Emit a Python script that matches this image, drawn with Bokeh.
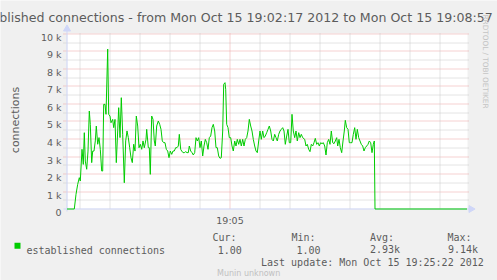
import math
from bokeh.plotting import figure
from bokeh.models import Range1d, Label
from bokeh.embed import file_html
from bokeh.resources import INLINE

# ---------------- data ----------------
title_text = "established connections - from Mon Oct 15 19:02:17 2012 to Mon Oct 15 19:08:57 2012"
y_label = "connections"
series_name = "established connections"
x_tick_pos = [163]                 # seconds after 19:02:17 -> 19:05:00
x_tick_labels = ["19:05"]
x_minor_pos = [13, 43, 73, 103, 133, 193, 223, 253, 283, 313, 343, 373]
y_ticks = [0, 1000, 2000, 3000, 4000, 5000, 6000, 7000, 8000, 9000, 10000]
y_tick_labels = ["0", "1 k", "2 k", "3 k", "4 k", "5 k", "6 k", "7 k", "8 k", "9 k", "10 k"]
y_minor = [500, 1500, 2500, 3500, 4500, 5500, 6500, 7500, 8500, 9500]
stat_names = ["Cur:", "Min:", "Avg:", "Max:"]
stat_values = ["1.00", "1.00", "2.93k", "9.14k"]
last_update = "Last update: Mon Oct 15 19:25:22 2012"
watermark = "Munin unknown"
side_text = "RRDTOOL / TOBI OETIKER"

# seconds after 19:02:17
times_s = [0, 7.3, 9.0, 10.7, 12.3, 13.3, 15.0, 16.3, 17.3, 18.3, 19.7, 21.0, 22.3, 23.3, 24.7,
           25.7, 27.0, 28.3, 29.3, 30.7, 32.0, 33.3, 34.7, 35.7, 36.7, 38.0, 39.0, 40.7, 41.7,
           43.0, 44.0, 45.7, 46.7, 48.0, 49.3, 50.7, 51.7, 53.0, 54.3, 55.7, 57.3, 58.7, 60.0,
           61.3, 62.7, 64.0, 65.3, 66.7, 68.0, 69.3, 70.7, 72.0, 73.3, 74.7, 76.0, 77.3, 79.0,
           79.7, 81.3, 82.3, 83.3, 84.7, 86.0, 87.3, 88.3, 89.7, 91.3, 92.7, 94.0, 95.3, 96.7,
           98.0, 99.3, 100.7, 102.0, 103.3, 104.7, 106.0, 107.3, 108.7, 110.0, 111.3, 112.3,
           113.7, 114.7, 116.0, 117.3, 118.7, 120.0, 121.3, 122.3, 123.7, 125.0, 126.3, 127.7,
           129.0, 130.3, 131.7, 133.0, 134.3, 135.7, 137.0, 138.3, 139.7, 141.0, 142.3, 143.7,
           145.0, 146.3, 147.7, 149.0, 150.3, 151.7, 153.0, 154.3, 155.7, 156.7, 158.0,
           158.7, 159.7, 161.0, 162.3, 163.7, 165.0, 166.3, 167.7, 169.0, 170.3, 171.7, 173.0,
           174.3, 175.7, 177.0, 178.3, 179.7, 181.0, 182.3, 183.7, 185.0, 186.3, 187.7, 189.0,
           190.3, 191.7, 193.0, 194.3, 195.7, 197.0, 198.3, 199.7, 201.0, 202.3, 203.7, 205.0,
           206.3, 207.7, 209.0, 210.3, 211.7, 213.0, 214.3, 215.7, 217.0, 218.3, 219.7, 221.0,
           222.3, 223.7, 225.0, 226.3, 227.7, 229.0, 230.3, 231.7, 233.0, 234.3, 235.7,
           237.7, 239.0, 240.3, 241.7, 243.0, 244.3, 245.7, 247.0, 248.3, 249.7, 251.0, 252.3,
           253.7, 255.0, 256.3, 257.7, 259.0, 260.3, 261.7, 263.0, 264.3, 265.7, 267.0, 268.3,
           269.7, 270.7, 272.0, 273.3, 274.7, 276.0, 277.3, 278.3, 279.7, 281.0, 282.3, 283.7,
           285.0, 286.3, 287.7, 289.0, 290.3, 291.7, 293.0, 294.3, 295.7, 297.0, 298.3, 299.7,
           301.0, 302.3, 303.7, 305.0, 306.3, 307.3, 308.0, 400.0]
conns = [0, 0, 840, 1410, 1790, 1600, 3410, 2550, 4360, 2740, 2270, 3310, 5600, 4840, 2650,
         3310, 3310, 3890, 4740, 3700, 4080, 3410, 2170, 2170, 5980, 5980, 5410, 9140, 5410,
         5310, 4930, 5120, 4650, 5120, 2650, 4460, 5790, 4080, 6360, 4270, 1500, 3890, 4460,
         4080, 3500, 2930, 2650, 3700, 3310, 5310, 4740, 3500, 3700, 3410, 3890, 3500, 3980,
         4552, 3505, 3505, 1981, 5314, 5124, 3886, 3600, 4743, 5029, 4838, 4552, 3886, 3790,
         3790, 3410, 3314, 2933, 3314, 3124, 3314, 3314, 3505, 3505, 3600, 4267,
         3410, 3314, 3219, 3219, 3276, 3219, 3219, 3600, 3314, 3219, 3086, 3219,
         4076, 3886, 4076, 3505, 3886, 3029, 3600, 3981, 3790, 3410, 4076, 4171,
         4648, 4838, 4457, 3505, 3505, 3029, 2895, 2933, 4457, 7124, 7219,
         6838, 4838, 4648, 4076, 4076, 3600, 3314, 3886, 3600, 3981, 3695, 3981,
         3600, 3981, 3600, 3981, 4076, 4457, 5124, 4743, 4457, 3981, 3600, 3314,
         3219, 3886, 4457, 3981, 4457, 4076, 4171, 4362, 4552, 4743, 4457, 3981,
         3886, 4267, 4076, 3886, 4267, 4457, 4552, 4648, 4457, 3695, 4171, 4552,
         3790, 3790, 5410, 4457, 4076, 4457, 3886, 4362, 4076, 4267, 4076,
         3981, 3600, 3695, 3410, 3276, 3695, 3600, 3790, 4038, 3695, 3790, 3600,
         3790, 3733, 3790, 3600, 3086, 3790, 3981, 3695, 4457, 3790, 3733, 3886,
         4076, 3600, 3981, 3505, 3219, 3886, 4457, 5067, 4648, 4552, 3790, 3790,
         3790, 4267, 4648, 3981, 4552, 4076, 3886, 3695, 3600, 3314, 3505, 3600,
         3695, 3886, 3790, 3219, 3695, 3886, 0, 0]

# ---------------- layout: the frame covers the whole canvas ----------------
W, H = 497, 280
X0PX = 66.5          # pixel of t = 0
Y0PX = 208.5         # pixel of 0 connections
PX_PER_S = 1.0
PX_PER_CONN = 175.0 / 10000.0


def sx(px):
    return (px - X0PX) / PX_PER_S


def sy(py):
    return (Y0PX - py) / PX_PER_CONN


def row_of(v):
    return Y0PX - v * PX_PER_CONN


FONT_COL = "#5c5c5c"
AXIS_COL = "#CFD6F8"
GRID_COL = "#c8c8c8"
MGRID_COL = "#eca2a2"
LINE_COL = "#00cc00"
MONO = "DejaVu Sans Mono"

p = figure(width=W, height=H, x_range=Range1d(sx(0), sx(W)), y_range=Range1d(sy(H), sy(0)),
           output_backend="svg", toolbar_location=None, title_location=None,
           x_axis_location=None, y_axis_location=None,
           min_border=0, min_border_left=0, min_border_right=0,
           min_border_top=0, min_border_bottom=0,
           background_fill_color="#f0f0f0", border_fill_color="#f0f0f0",
           outline_line_color=None)
p.xgrid.visible = False
p.ygrid.visible = False

# canvas (white plot area)
p.quad(left=[sx(67)], right=[sx(467)], top=[sy(33)], bottom=[sy(208)],
       fill_color="white", line_color=None)


# horizontal grid (snapped to pixel rows) incl. small ticks left of the axis
def snap(v):
    return sy(math.floor(row_of(v)) + 0.5)


ymaj = [snap(v) for v in y_ticks if v > 0]
ymin = [snap(v) for v in y_minor]
p.segment(x0=[sx(63)] * len(ymin), y0=ymin, x1=[sx(469)] * len(ymin), y1=ymin,
          line_color=GRID_COL, line_width=1, line_dash="1 1")
p.segment(x0=[sx(63)] * len(ymaj), y0=ymaj, x1=[sx(469)] * len(ymaj), y1=ymaj,
          line_color=MGRID_COL, line_width=1, line_dash="1 1")

# vertical grid
p.segment(x0=x_minor_pos, y0=[sy(208)] * len(x_minor_pos), x1=x_minor_pos,
          y1=[sy(33)] * len(x_minor_pos), line_color=GRID_COL, line_width=1, line_dash="1 1")
p.segment(x0=x_tick_pos, y0=[sy(208)] * len(x_tick_pos), x1=x_tick_pos,
          y1=[sy(33)] * len(x_tick_pos), line_color=MGRID_COL, line_width=1, line_dash="1 1")

# axes with arrow heads
p.segment(x0=[sx(63)], y0=[0], x1=[sx(469)], y1=[0], line_color=AXIS_COL, line_width=1)
p.segment(x0=[0], y0=[sy(211)], x1=[0], y1=[sy(30)], line_color=AXIS_COL, line_width=1)
p.scatter(x=[sx(470.5)], y=[0], marker="triangle", size=7, angle=-math.pi / 2,
          fill_color=AXIS_COL, line_color=AXIS_COL)
p.scatter(x=[0], y=[sy(28.5)], marker="triangle", size=7,
          fill_color=AXIS_COL, line_color=AXIS_COL)

# data line
p.line(times_s, conns, line_color=LINE_COL, line_width=1)


def lab(px, py, text, size, font="DejaVu Sans", color=FONT_COL, align="left",
        baseline="alphabetic", angle=0.0):
    p.add_layout(Label(x=sx(px), y=sy(py), text=text, text_font=font,
                       text_font_size=size, text_color=color, text_align=align,
                       text_baseline=baseline, angle=angle))


# tick labels
for v, t in zip(y_ticks, y_tick_labels):
    lab(61, math.floor(row_of(v)) + 0.5 + 3.4, t, "9.5px", align="right")
for t, l in zip(x_tick_pos, x_tick_labels):
    lab(X0PX + t, 220, l, "9.5px", align="center")

# title (wider than the image, centred and cut at both sides as in the original)
lab(250, 17.3, title_text, "12.6px", align="center")
# y axis label
lab(15, 119.5, y_label, "11px", align="center", angle=math.pi / 2)
# side watermark
lab(485, 108, side_text, "7.3px", color="#c4c4c4", align="right", angle=-math.pi / 2)

# legend
p.quad(left=[sx(14)], right=[sx(20)], top=[sy(242.3)], bottom=[sy(248.3)],
       fill_color=LINE_COL, line_color=None)
lab(26, 249.5, series_name, "10px", font=MONO)
name_x = [212, 291, 369.5, 447]
val_x = [217.3, 296, 369.5, 447.5]
for nx, vx, n, v in zip(name_x, val_x, stat_names, stat_values):
    lab(nx, 237.3, n, "10px", font=MONO)
    lab(vx, 249.3, v, "10px", font=MONO)
lab(260.5, 261.7, last_update, "10px", font=MONO)
lab(216.5, 272.5, watermark, "8px", color="#c0c0c0")

open("out.html", "w").write(file_html(p, INLINE))
